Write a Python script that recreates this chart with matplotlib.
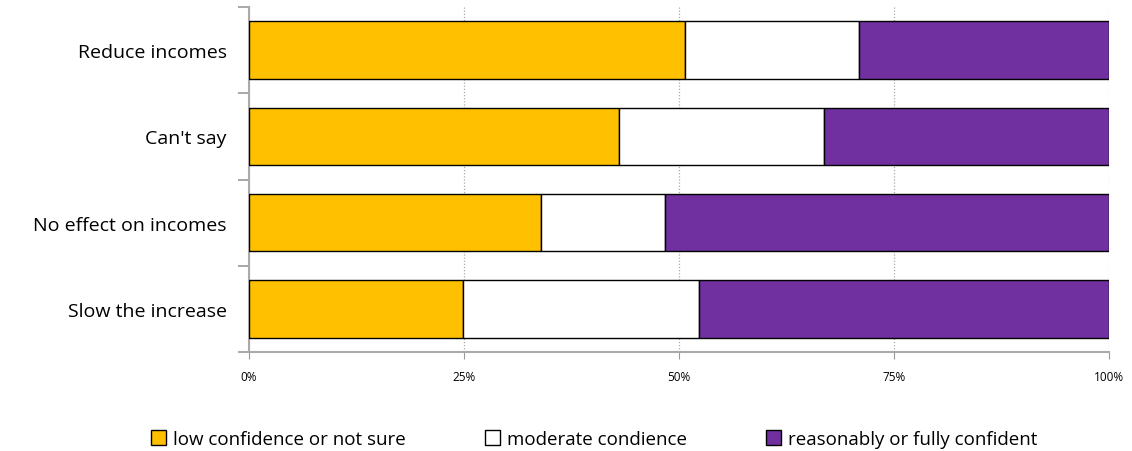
import matplotlib
matplotlib.use("Agg")
import matplotlib.pyplot as plt
import numpy as np

# data (share of respondents, %)
categories = ["Slow the increase", "No effect on incomes", "Can't say", "Reduce incomes"]
low_conf = [24.9, 34.0, 43.0, 50.7]
moderate = [27.4, 14.4, 23.9, 20.2]
confident = [47.7, 51.6, 33.1, 29.1]
series_names = ["low confidence or not sure", "moderate condience",
                "reasonably or fully confident"]
colors = ["#FFC000", "#FFFFFF", "#7030A0"]
xticks = [0, 25, 50, 75, 100]

plt.rcParams['font.family'] = ['Open Sans', 'DejaVu Sans']

fig = plt.figure(figsize=(11.32, 4.52), dpi=100)
ax = fig.add_axes([249/1132, 1 - 353/452, (1109 - 249)/1132, (353 - 8)/452])

y = np.arange(len(categories))
left = np.zeros(len(categories))
for vals, name, col in zip([low_conf, moderate, confident], series_names, colors):
    ax.barh(y, vals, left=left, height=0.665, color=col, edgecolor="black",
            linewidth=1.0, label=name, zorder=3)
    left += np.array(vals)

ax.set_xlim(0, 100)
ax.set_ylim(-0.5, len(categories) - 0.5)

ax.set_xticks(xticks)
ax.set_xticklabels([f"{t}%" for t in xticks], fontsize=8.5)
ax.tick_params(axis="x", length=5, color="#999999", pad=8)
ax.xaxis.grid(True, linestyle=(0, (1, 1.5)), color="#aaaaaa", linewidth=0.9, zorder=0)

ax.set_yticks(y)
ax.set_yticklabels(categories, fontsize=14)
ax.tick_params(axis="y", which="major", length=0, pad=16)
ax.set_yticks(np.arange(-0.5, len(categories)), minor=True)
ax.tick_params(axis="y", which="minor", length=8, color="#999999", width=1.2)

for s in ["top", "right"]:
    ax.spines[s].set_visible(False)
for s in ["left", "bottom"]:
    ax.spines[s].set_color("#aaaaaa")
    ax.spines[s].set_linewidth(1.5)

leg = fig.legend(loc="center", bbox_to_anchor=(0.525, 1 - 440/452), ncol=3,
                 frameon=False, fontsize=13.5, handlelength=0.8, handleheight=0.8,
                 handletextpad=0.4, columnspacing=4.2)
for h in leg.legend_handles:
    h.set_linewidth(1.0)

fig.savefig("out.png", dpi=100)
